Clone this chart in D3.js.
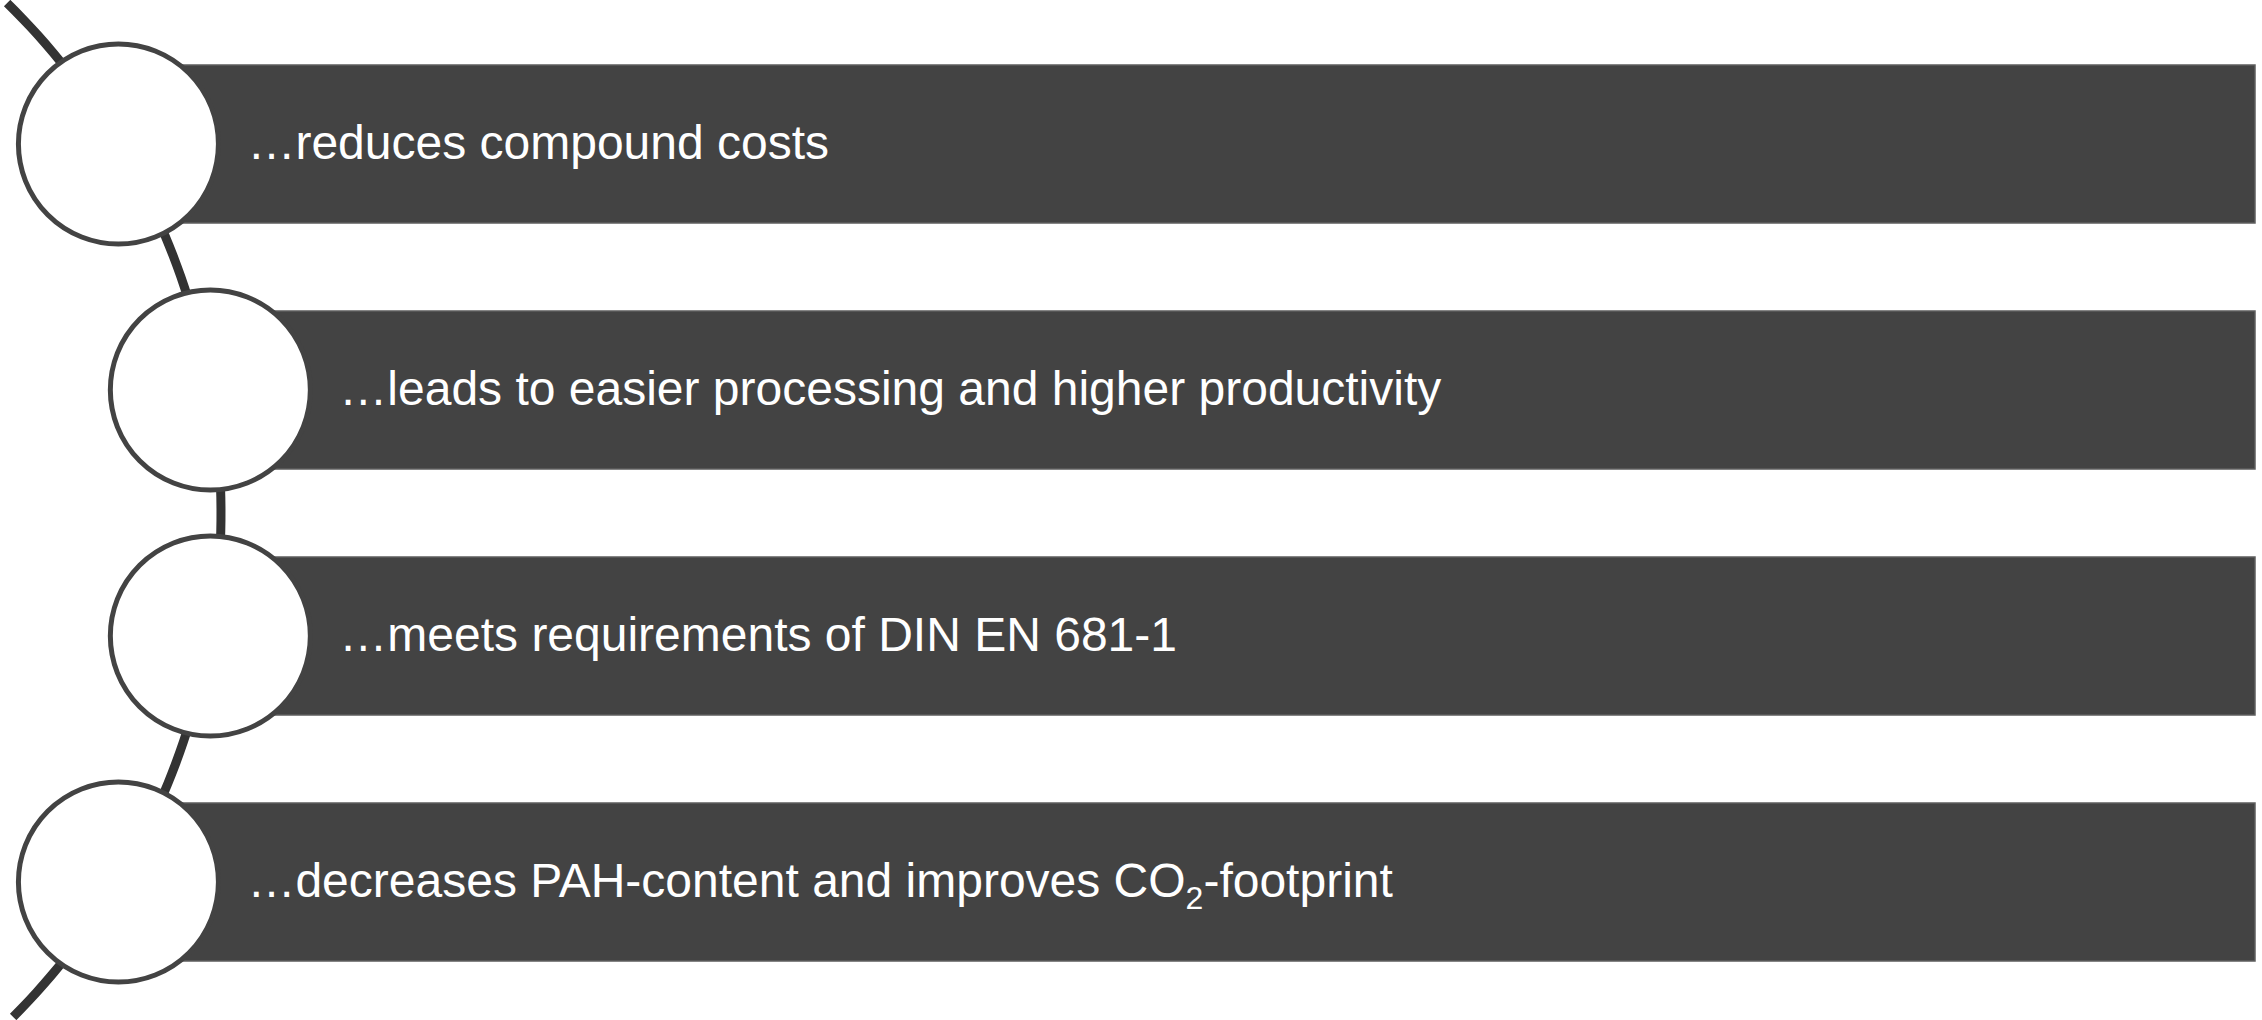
<!DOCTYPE html>
<html>
<head>
<meta charset="utf-8">
<script src="https://cdn.jsdelivr.net/npm/d3@7/dist/d3.min.js"></script>
<style>
  html, body { margin: 0; padding: 0; background: #fff; }
  svg { display: block; }
</style>
</head>
<body>
<svg id="chart"></svg>
<script>
// statements, top to bottom
const items = ['r1', 'r2', 'r3', 'r4'];
const labels = [
  ['\u2026reduces compound costs'],
  ['\u2026leads to easier processing and higher productivity'],
  ['\u2026meets requirements of DIN EN 681-1'],
  ['\u2026decreases PAH-content and improves CO', {sub: '2'}, '-footprint']
];

const width = 2262;
const height = 1020;
const barH = 158;
const barRight = 2255;
const r = 100;
// the big arc the circles sit on (centre far to the left)
const arcCx = -494, arcCy = 513, arcR = 715;

const svg = d3.select('#chart').attr('width', width).attr('height', height);

const y = d3.scalePoint().domain(items).range([144, 882]);
const arcX = (yy) => arcCx + Math.sqrt(arcR * arcR - (yy - arcCy) * (yy - arcCy));

// arc line
const angTop = Math.asin((3 - arcCy) / arcR);
const angBot = Math.asin((1017 - arcCy) / arcR);
const arcPts = d3.range(0, 101).map((i) => {
  const a = angTop + (angBot - angTop) * i / 100;
  return [arcCx + arcR * Math.cos(a), arcCy + arcR * Math.sin(a)];
});
svg.append('path')
  .attr('d', d3.line()(arcPts))
  .attr('fill', 'none')
  .attr('stroke', '#333333')
  .attr('stroke-width', 9);

const rows = svg.append('g').selectAll('g')
  .data(items)
  .enter()
  .append('g');

rows.append('rect')
  .attr('x', (d) => arcX(y(d)))
  .attr('y', (d) => y(d) - barH / 2)
  .attr('width', (d) => barRight - arcX(y(d)))
  .attr('height', barH)
  .attr('fill', '#434343')
  .attr('stroke', '#5e5e5e')
  .attr('stroke-width', 1.5);

rows.append('circle')
  .attr('cx', (d) => arcX(y(d)))
  .attr('cy', (d) => y(d))
  .attr('r', r)
  .attr('fill', '#ffffff')
  .attr('stroke', '#434343')
  .attr('stroke-width', 5);

const txt = rows.append('text')
  .attr('x', (d) => arcX(y(d)) + r + 29)
  .attr('y', (d) => y(d) + 15)
  .attr('fill', '#ffffff')
  .style('font-family', '"Liberation Sans", Arial, sans-serif')
  .style('font-size', '48px');

txt.each(function (d, i) {
  const t = d3.select(this);
  let shift = 0;
  labels[i].forEach((part) => {
    if (typeof part === 'string') {
      t.append('tspan').attr('dy', -shift).text(part);
      shift = 0;
    } else {
      shift = 12;
      t.append('tspan').attr('dy', shift).style('font-size', '32px').text(part.sub);
    }
  });
});
</script>
</body>
</html>
